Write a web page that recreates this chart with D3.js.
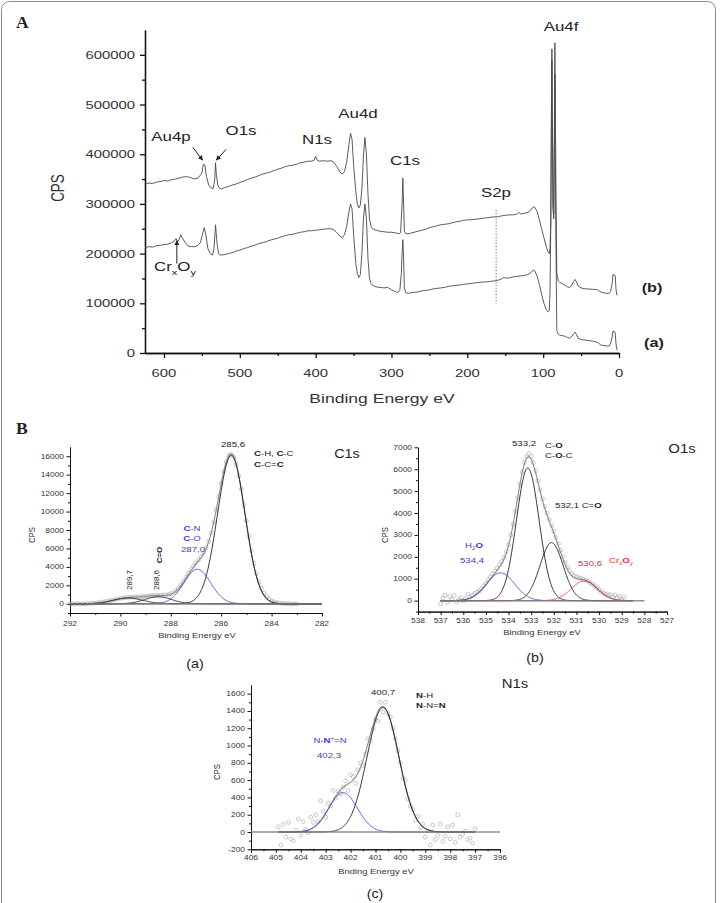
<!DOCTYPE html>
<html><head><meta charset="utf-8">
<script src="https://cdn.jsdelivr.net/npm/d3@7"></script>
<style>body{margin:0;background:#fff}svg{display:block}text{font-family:"Liberation Sans",Arial,sans-serif}</style>
</head><body>
<script>
// ---------------- DATA ----------------
// Survey spectra (panel A): [binding energy eV, CPS]
const surveyB = [[625,340000],[620,342000],[615,341000],[610,344000],[605,345000],[600,347000],[595,346000],[590,349000],[585,350000],[580,352000],[575,354000],[570,355000],[565,353000],[560,350000],[555,352000],[550,362000],[548,380000],[546,378000],[544,355000],[541,338000],[538,332000],[535,331000],[533,350000],[532,383000],[531,360000],[529,338000],[527,332000],[524,330000],[520,333000],[515,335000],[510,338000],[505,340000],[500,343000],[495,346000],[490,349000],[485,352000],[480,354000],[475,357000],[470,360000],[465,362000],[460,364000],[455,367000],[450,370000],[445,372000],[440,375000],[435,377000],[430,378000],[425,380000],[420,383000],[415,384000],[410,386000],[405,386000],[402,388000],[400,396000],[398,388000],[395,386000],[390,387000],[385,386000],[380,387000],[376,384000],[372,375000],[368,364000],[365,360000],[362,365000],[359,385000],[356,420000],[354,442000],[352,430000],[350,380000],[347,325000],[345,300000],[343,292000],[341,298000],[339,330000],[337,395000],[335,434000],[333,400000],[331,320000],[329,270000],[327,255000],[325,250000],[320,247000],[315,245000],[310,244000],[305,243000],[300,243000],[295,242000],[290,240000],[288,242000],[286,300000],[285,352000],[284,300000],[283,245000],[281,240000],[278,240000],[275,241000],[270,243000],[265,245000],[260,247000],[255,249000],[250,252000],[245,254000],[240,256000],[235,258000],[230,259000],[225,260000],[220,262000],[215,264000],[210,265000],[205,267000],[200,268000],[195,268000],[190,269000],[185,270000],[180,271000],[175,272000],[170,273000],[165,274000],[160,274000],[155,276000],[150,277000],[145,278000],[140,278000],[135,279000],[132,283000],[130,280000],[125,281000],[120,283000],[116,288000],[113,294000],[111,293000],[108,285000],[105,268000],[102,250000],[99,232000],[96,215000],[94,205000],[92,200000],[91,210000],[90,260000],[89,520000],[88.5,612000],[88,520000],[87,300000],[86,280000],[85,500000],[84.5,624000],[84,520000],[83,300000],[82,160000],[80,145000],[78,142000],[75,140000],[72,137000],[68,133000],[65,132000],[62,137000],[60,144000],[58,148000],[56,143000],[54,135000],[50,131000],[45,129000],[40,129000],[35,128000],[30,128000],[27,126000],[24,123000],[20,121000],[16,120000],[13,120000],[11,124000],[9,140000],[8,158000],[6,157000],[5,155000],[4,130000],[3,117000],[2,116000]];
const surveyA = [[625,212000],[620,214000],[615,213000],[610,216000],[605,217000],[600,218000],[595,219000],[590,222000],[586,226000],[584,230000],[582,224000],[580,228000],[578,238000],[576,232000],[572,222000],[568,215000],[564,214000],[560,214000],[556,216000],[552,222000],[549,240000],[547,252000],[545,240000],[542,210000],[539,200000],[536,197000],[534,210000],[532,258000],[530,220000],[528,200000],[525,197000],[520,198000],[515,200000],[510,202000],[505,205000],[500,207000],[495,210000],[490,212000],[485,215000],[480,217000],[475,220000],[470,222000],[465,224000],[460,227000],[455,229000],[450,231000],[445,234000],[440,236000],[435,238000],[430,239000],[425,241000],[420,243000],[415,244000],[410,246000],[405,246000],[400,247000],[395,248000],[390,249000],[385,250000],[380,250000],[376,248000],[372,242000],[368,235000],[365,232000],[362,238000],[359,255000],[356,285000],[354,300000],[352,290000],[350,240000],[347,180000],[345,160000],[343,152000],[341,158000],[339,200000],[337,270000],[335,300000],[333,270000],[331,190000],[329,150000],[327,140000],[325,136000],[320,133000],[315,132000],[310,131000],[305,132000],[300,127000],[296,124000],[292,122000],[289,126000],[287,160000],[286,200000],[285,228000],[284,190000],[283,130000],[281,121000],[278,120000],[275,121000],[270,122000],[265,123000],[260,125000],[255,126000],[250,127000],[245,129000],[240,130000],[235,131000],[230,132000],[225,134000],[220,135000],[215,136000],[210,137000],[205,138000],[200,139000],[195,140000],[190,141000],[185,142000],[180,143000],[175,143000],[170,144000],[165,145000],[160,146000],[155,149000],[152,152000],[150,151000],[145,151000],[140,153000],[135,154000],[130,155000],[125,156000],[120,158000],[116,162000],[113,167000],[111,165000],[108,155000],[105,138000],[102,118000],[99,100000],[96,88000],[94,83000],[92,85000],[91,120000],[90,250000],[89,480000],[88.5,590000],[88,470000],[87,290000],[86,270000],[85,440000],[84.5,560000],[84,400000],[83,200000],[82,45000],[80,38000],[78,36000],[75,35000],[72,34000],[68,31000],[65,30000],[62,34000],[60,38000],[58,42000],[56,37000],[54,30000],[50,27000],[45,26000],[40,25000],[35,24000],[30,22000],[27,20000],[24,16000],[20,15000],[16,14000],[13,14000],[11,20000],[9,32000],[8,44000],[6,43000],[5,40000],[4,20000],[3,8000],[2,6000]];
const surveyTicksX = [600,500,400,300,200,100,0];
const surveyTicksY = [0,100000,200000,300000,400000,500000,600000];

// C1s high resolution (B a): measured points from 292.0 eV down in 0.1 eV steps
const c1sStart = 292.0;
const c1sCps = [-60,20,-80,40,-30,10,-50,60,30,90,70,120,150,200,250,290,350,400,470,520,580,630,660,700,710,720,740,750,770,790,820,840,870,890,900,910,920,940,960,1010,1090,1220,1430,1720,2060,2450,2880,3320,3720,4080,4420,4760,5110,5530,6060,6780,7700,8850,10180,11620,13050,14350,15380,16020,16200,15900,15130,13900,12420,10750,9000,7300,5750,4400,3280,2380,1680,1150,780,520,330,210,140,90,40,60,10,30,-20,10,-10];
const c1sCenters = [285.6, 286.95, 288.5, 289.7];
const c1sHeights = [16100, 3750, 760, 620];
const c1sFwhm = [1.28, 1.25, 1.25, 1.4];

// O1s (B b): from 537.0 eV down in 0.1 eV steps
const o1sStart = 537.0;
const o1sCps = [-150,120,250,-80,180,60,230,-60,40,140,-20,90,300,160,240,330,380,420,540,680,800,950,1080,1220,1350,1480,1640,1790,1980,2230,2560,2990,3480,4080,4700,5320,5870,6300,6580,6720,6600,6300,5920,5480,5060,4650,4300,4000,3700,3420,3160,2880,2600,2300,2010,1760,1530,1360,1230,1140,1090,1050,1010,980,940,890,820,760,680,590,500,410,340,300,240,290,180,260,120,200,60,150];
const o1sCenters = [533.15, 532.1, 534.35, 530.65];
const o1sHeights = [6050, 2650, 1270, 900];
const o1sFwhm = [1.18, 1.2, 1.45, 1.35];

// N1s (B c): from 404.9 eV down in 0.1 eV steps
const n1sStart = 404.9;
const n1sCps = [60,-150,90,-60,110,-80,-100,20,150,-40,120,30,-10,170,110,200,120,360,240,170,330,300,480,390,470,440,520,590,480,660,640,560,720,800,770,900,1080,1060,1190,1300,1280,1500,1390,1500,1370,1330,1200,1080,940,800,620,600,380,300,260,140,180,50,90,-60,10,-150,80,-90,-40,90,-110,-50,60,-80,80,-120,200,-60,-30,10,-90,-70,-130,40];
const n1sCenters = [400.7, 402.3];
const n1sHeights = [1440, 455];
const n1sFwhm = [1.5, 1.35];

// ---------------- DRAWING ----------------
const BLUE = "#3b3bd0", RED = "#e0312f";
const svg = d3.select("body").append("svg").attr("width",720).attr("height",903);
svg.append("rect").attr("x",1.5).attr("y",1.5).attr("width",714).attr("height",1000).attr("rx",8)
  .attr("fill","none").attr("stroke","#8a8a8a").attr("stroke-width",1);

function label(g, x, y, parts, o = {}) {
  const sx = o.sx ?? 1, size = o.size || 10;
  const t = g.append("text")
    .attr("transform", `translate(${x},${y}) scale(${sx},1)` + (o.rot ? ` rotate(${o.rot})` : ""))
    .attr("font-size", size).attr("text-anchor", o.anchor || "start")
    .attr("fill", o.fill || "#222").attr("font-weight", o.weight || "normal");
  if (o.family) t.style("font-family", o.family);
  if (typeof parts === "string") parts = [[parts, ""]];
  let shift = 0;
  parts.forEach(([s, st = ""]) => {
    const ts = t.append("tspan").text(s);
    let target = 0;
    if (st.includes("s")) target = size * 0.3;
    if (st.includes("p")) target = -size * 0.4;
    if (target !== shift) { ts.attr("dy", target - shift); shift = target; }
    if (st.includes("s") || st.includes("p")) ts.attr("font-size", size * 0.65);
    if (st.includes("b")) ts.attr("font-weight", "bold");
  });
  return t;
}

function styleAxis(g, w) {
  g.select(".domain").attr("stroke", "#111").attr("stroke-width", w);
  g.selectAll(".tick line").attr("stroke", "#111").attr("stroke-width", w);
}

// ---- Panel A ----
const gA = svg.append("g");
const xA = d3.scaleLinear().domain([625, 0]).range([145, 619]);
const yA = d3.scaleLinear().domain([0, 650000]).range([353, 30]);
const SXA = 1.35;

const axA = gA.append("g").attr("transform", "translate(0,353)")
  .call(d3.axisBottom(xA).tickValues(surveyTicksX).tickSize(5).tickSizeOuter(0).tickFormat(""));
styleAxis(axA, 1.3);
const axAm = gA.append("g").attr("transform", "translate(0,353)")
  .call(d3.axisBottom(xA).tickValues(d3.range(550, 0, -100)).tickSize(3).tickSizeOuter(0).tickFormat(""));
styleAxis(axAm, 1.3);
const ayA = gA.append("g").attr("transform", "translate(145,0)")
  .call(d3.axisLeft(yA).tickValues(surveyTicksY).tickSize(5).tickSizeOuter(0).tickFormat(""));
styleAxis(ayA, 1.3);
const ayAm = gA.append("g").attr("transform", "translate(145,0)")
  .call(d3.axisLeft(yA).tickValues(d3.range(50000, 650000, 100000)).tickSize(3).tickSizeOuter(0).tickFormat(""));
styleAxis(ayAm, 1.3);

surveyTicksX.forEach(v => label(gA, xA(v), 377, String(v), {size: 11, anchor: "middle", sx: SXA, fill: "#333"}));
surveyTicksY.forEach(v => label(gA, 135, yA(v) + 4, String(v), {size: 11, anchor: "end", sx: SXA, fill: "#333"}));
label(gA, 382, 403, "Binding Energy eV", {size: 13, anchor: "middle", sx: SXA, fill: "#333"});
label(gA, 64, 188, "CPS", {size: 13.5, anchor: "middle", sx: SXA, rot: -90, fill: "#333"});

const lineA = d3.line().x(d => xA(d[0])).y(d => yA(d[1]));
[surveyA, surveyB].forEach(s => gA.append("path").datum(s).attr("d", lineA)
  .attr("fill", "none").attr("stroke", "#4a4a4a").attr("stroke-width", 0.9).attr("stroke-linejoin", "round"));

// S2p dotted marker
gA.append("line").attr("x1", xA(162)).attr("x2", xA(162)).attr("y1", yA(288000)).attr("y2", yA(100000))
  .attr("stroke", "#666").attr("stroke-width", 0.8).attr("stroke-dasharray", "1.5,1.5");

// arrows
const defs = svg.append("defs");
defs.append("marker").attr("id", "ah").attr("viewBox", "0 0 10 10").attr("refX", 9).attr("refY", 5)
  .attr("markerWidth", 5).attr("markerHeight", 5).attr("orient", "auto")
  .append("path").attr("d", "M0,0L10,5L0,10z").attr("fill", "#222");
function arrow(e1, c1, e2, c2) {
  gA.append("line").attr("x1", xA(e1)).attr("y1", yA(c1)).attr("x2", xA(e2)).attr("y2", yA(c2))
    .attr("stroke", "#222").attr("stroke-width", 1).attr("marker-end", "url(#ah)");
}
arrow(562, 414000, 549, 388000);
arrow(518, 410000, 531, 388000);
arrow(583, 180000, 583, 226000);

const pl = {size: 12.5, anchor: "middle", sx: SXA, fill: "#222"};
label(gA, 561, 31, "Au4f", pl);
label(gA, 171, 141, "Au4p", pl);
label(gA, 241, 135, "O1s", pl);
label(gA, 317, 144, "N1s", pl);
label(gA, 358, 118, "Au4d", pl);
label(gA, 405, 165, "C1s", pl);
label(gA, 496, 197, "S2p", pl);
label(gA, 175, 271, [["Cr", ""], ["x", "s"], ["O", ""], ["y", "s"]], pl);
label(gA, 652, 292, "(b)", {size: 13, anchor: "middle", sx: 1.25, weight: "bold"});
label(gA, 654, 347, "(a)", {size: 13, anchor: "middle", sx: 1.25, weight: "bold"});
label(svg, 16, 28, "A", {size: 16, weight: "bold", family: "'Liberation Serif',serif", sx: 1.1});
label(svg, 16, 434, "B", {size: 16, weight: "bold", family: "'Liberation Serif',serif", sx: 1.1});

// ---- Panel B helper ----
const SXB = 1.2;
function gauss(c, h, w) { const k = 4 * Math.LN2 / (w * w); return x => h * Math.exp(-k * (x - c) * (x - c)); }

function hrPanel(cfg) {
  const g = svg.append("g");
  const x = d3.scaleLinear().domain(cfg.xd).range(cfg.xr);
  const y = d3.scaleLinear().domain(cfg.yd).range(cfg.yr);
  const y0 = cfg.yr[0], x0 = cfg.xr[0];
  const bx = g.append("g").attr("transform", `translate(0,${y0})`)
    .call(d3.axisBottom(x).tickValues(cfg.xt).tickSize(3.5).tickSizeOuter(0).tickFormat(""));
  styleAxis(bx, 1);
  const bxm = g.append("g").attr("transform", `translate(0,${y0})`)
    .call(d3.axisBottom(x).tickValues(cfg.xm).tickSize(2).tickSizeOuter(0).tickFormat(""));
  styleAxis(bxm, 1);
  const by = g.append("g").attr("transform", `translate(${x0},0)`)
    .call(d3.axisLeft(y).tickValues(cfg.yt).tickSize(3.5).tickSizeOuter(0).tickFormat(""));
  styleAxis(by, 1);
  const bym = g.append("g").attr("transform", `translate(${x0},0)`)
    .call(d3.axisLeft(y).tickValues(cfg.ym).tickSize(2).tickSizeOuter(0).tickFormat(""));
  styleAxis(bym, 1);
  cfg.xt.forEach(v => label(g, x(v), cfg.xlY, String(v), {size: 7, anchor: "middle", sx: SXB, fill: "#333"}));
  cfg.yt.forEach(v => label(g, x0 - 6, y(v) + 2.5, String(v), {size: 7, anchor: "end", sx: SXB, fill: "#333"}));
  label(g, cfg.title[0], cfg.title[1], cfg.titleText, {size: 7.8, anchor: "middle", sx: SXB, fill: "#333"});
  label(g, cfg.cps[0], cfg.cps[1], "CPS", {size: 7.8, anchor: "middle", sx: SXB, rot: -90, fill: "#333"});

  const fr = d3.range(cfg.fit[0], cfg.fit[1] + 0.0001, 0.02);
  const cr = d3.range(cfg.comp[0], cfg.comp[1] + 0.0001, 0.02);
  // data circles
  const pts = cfg.data.map((v, i) => [cfg.start - i * 0.1, v]);
  g.append("g").selectAll("circle").data(pts).join("circle")
    .attr("cx", d => x(d[0])).attr("cy", d => y(d[1])).attr("r", 1.9)
    .attr("fill", "none").attr("stroke", "#a2a2a2").attr("stroke-width", 0.6);
  const fns = cfg.centers.map((c, i) => gauss(c, cfg.heights[i], cfg.fwhm[i]));
  const ln = d3.line().x(d => x(d[0])).y(d => y(d[1]));
  // envelope
  g.append("path").datum(cr.map(e => [e, d3.sum(fns, f => f(e))])).attr("d", ln)
    .attr("fill", "none").attr("stroke", "#8a8a8a").attr("stroke-width", 1.1);
  fns.forEach((f, i) => g.append("path").datum(cr.map(e => [e, f(e)])).attr("d", ln)
    .attr("fill", "none").attr("stroke", cfg.colors[i]).attr("stroke-width", 0.85));
  // baseline on top
  g.append("line").attr("x1", x(cfg.fit[0])).attr("x2", x(cfg.fit[1])).attr("y1", y(0)).attr("y2", y(0))
    .attr("stroke", "#7d7d7d").attr("stroke-width", 1.5).attr("stroke-opacity", 0.85);
  return {g, x, y};
}

// C1s
const C = hrPanel({
  xd: [292, 282], xr: [70, 322], yd: [-1000, 17000], yr: [613, 447],
  xt: d3.range(292, 281, -2), xm: d3.range(291, 282, -2),
  yt: d3.range(0, 16001, 2000), ym: d3.range(-1000, 17000, 2000),
  xlY: 626, title: [197, 638], titleText: "Binding Energy eV", cps: [35, 535],
  fit: [282, 292], comp: [282, 292], start: c1sStart, data: c1sCps,
  centers: c1sCenters, heights: c1sHeights, fwhm: c1sFwhm, colors: ["#111", BLUE, "#111", "#111"]
});
const bl = {size: 8, sx: SXB, fill: "#222"};
label(C.g, 233, 447, "285,6", {...bl, anchor: "middle"});
label(C.g, 254, 456, [["C","b"],["-H, ",""],["C","b"],["-C",""]], bl);
label(C.g, 254, 467, [["C","b"],["-C=",""],["C","b"]], bl);
label(C.g, 347, 458, "C1s", {size: 12.5, anchor: "middle", sx: 1.15});
label(C.g, 192, 531, [["C","b"],["-N",""]], {...bl, fill: BLUE, anchor: "middle"});
label(C.g, 192, 541, [["C","b"],["-O",""]], {...bl, fill: BLUE, anchor: "middle"});
label(C.g, 193, 552, "287,0", {...bl, fill: BLUE, anchor: "middle"});
label(C.g, 132, 580, "289,7", {size: 8, anchor: "middle", rot: -90, sx: 1});
label(C.g, 159, 580, "288,6", {size: 8, anchor: "middle", rot: -90, sx: 1});
label(C.g, 162, 555, [["C","b"],["=O","b"]], {size: 8, anchor: "middle", rot: -90, sx: 1});
label(C.g, 195, 668, "(a)", {size: 13, anchor: "middle", sx: 1.1});

// O1s
const O = hrPanel({
  xd: [538, 527], xr: [418, 667], yd: [-500, 7000], yr: [611.6, 447.3],
  xt: d3.range(538, 526.5, -1), xm: d3.range(537.5, 527, -1),
  yt: d3.range(0, 7001, 1000), ym: d3.range(-500, 7000, 1000),
  xlY: 623, title: [542, 635], titleText: "Binding Energy eV", cps: [388, 535],
  fit: [528, 537], comp: [528.5, 537], start: o1sStart, data: o1sCps,
  centers: o1sCenters, heights: o1sHeights, fwhm: o1sFwhm, colors: ["#111", "#111", BLUE, RED]
});
label(O.g, 524, 446, "533,2", {...bl, anchor: "middle"});
label(O.g, 545, 448, [["C-",""],["O","b"]], bl);
label(O.g, 545, 458, [["C-",""],["O","b"],["-C",""]], bl);
label(O.g, 555, 508, [["532,1 C=",""],["O","b"]], bl);
label(O.g, 474, 548, [["H",""],["2","s"],["O","b"]], {...bl, fill: BLUE, anchor: "middle"});
label(O.g, 472, 563, "534,4", {...bl, fill: BLUE, anchor: "middle"});
label(O.g, 590, 566, "530,6", {...bl, fill: RED, anchor: "middle"});
label(O.g, 609, 563, [["Cr",""],["x","s"],["O","b"],["y","s"]], {...bl, fill: RED});
label(O.g, 682, 453, "O1s", {size: 13, anchor: "middle", sx: 1.15});
label(O.g, 535, 662, "(b)", {size: 13, anchor: "middle", sx: 1.1});

// N1s
const N = hrPanel({
  xd: [406, 396], xr: [251, 500], yd: [-200, 1700], yr: [849.3, 685],
  xt: d3.range(406, 395.5, -1), xm: d3.range(405.5, 396, -1),
  yt: d3.range(-200, 1601, 200), ym: d3.range(-100, 1700, 200),
  xlY: 860, title: [376, 874], titleText: "Bnding Energy eV", cps: [220, 772],
  fit: [396, 406], comp: [397, 404.9], start: n1sStart, data: n1sCps,
  centers: n1sCenters, heights: n1sHeights, fwhm: n1sFwhm, colors: ["#111", BLUE]
});
label(N.g, 383, 695, "400,7", {...bl, anchor: "middle"});
label(N.g, 416, 698, [["N","b"],["-H",""]], bl);
label(N.g, 416, 708, [["N","b"],["-N=",""],["N","b"]], bl);
label(N.g, 330, 743, [["N-",""],["N","b"],["+","p"],["=N",""]], {...bl, fill: BLUE, anchor: "middle"});
label(N.g, 329, 758, "402,3", {...bl, fill: BLUE, anchor: "middle"});
label(N.g, 515, 688, "N1s", {size: 13, anchor: "middle", sx: 1.15});
label(N.g, 375, 898, "(c)", {size: 13, anchor: "middle", sx: 1.1});
</script></body></html>
